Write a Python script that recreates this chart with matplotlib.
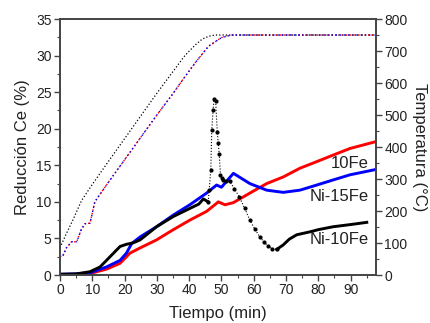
"""Reduccion de Ce y temperatura frente al tiempo (Ni-Fe)"""
import matplotlib
matplotlib.use("Agg")
import matplotlib.pyplot as plt
from matplotlib.ticker import MultipleLocator

plt.rcParams["font.family"] = ["Liberation Sans", "DejaVu Sans"]

# reduccion Ce (%)
ni10_t = [0, 5, 9.3, 12.4, 15.5, 18.6, 20.6, 22.7, 24.8, 29.9, 35.1, 40.2, 43, 44.4, 45.9]
ni10_r = [0.1, 0.15, 0.45, 1.1, 2.5, 3.9, 4.2, 4.4, 4.8, 6.6, 8.0, 9.1, 9.7, 10.4, 10.0]
ni10_peak_t = [45.9, 46.2, 46.7, 47.0, 47.4, 47.7, 48.2, 48.7, 49.0, 49.3, 49.7, 50.1,
               50.6, 51.5, 52.6, 54.0, 55.5, 57.2, 58.8, 60.3, 61.9, 63.2, 64.5, 65.8, 67.1]
ni10_peak_r = [10.0, 11.6, 14.4, 19.8, 22.5, 24.1, 23.8, 19.6, 18.0, 16.6, 13.7, 13.2,
               13.0, 12.9, 12.8, 11.8, 10.7, 9.1, 7.5, 6.3, 5.2, 4.5, 3.9, 3.6, 3.5]
ni10_end_t = [67.1, 69.1, 71, 73.3, 77.4, 80, 84.6, 90, 95]
ni10_end_r = [3.5, 4.1, 4.9, 5.5, 5.9, 6.2, 6.6, 6.9, 7.2]

ni15_t = [0, 5, 9.3, 14.4, 18.6, 20.6, 22.2, 24.8, 29.9, 35.1, 40.2, 45.4, 48.5, 50.0,
          53.7, 58.8, 64, 69.1, 74.3, 79.5, 84.6, 89.8, 97.5]
ni15_r = [0.1, 0.15, 0.3, 1.1, 2.0, 3.0, 4.3, 5.2, 6.6, 8.2, 9.6, 11.2, 12.3, 12.0,
          13.9, 12.5, 11.6, 11.3, 11.6, 12.3, 13.0, 13.7, 14.4]

fe10_t = [0, 5, 9.3, 14.4, 18.6, 21.7, 24.8, 29.9, 35.1, 40.2, 45.4, 48.5, 49.0, 51.1,
          53.7, 58.8, 64, 69.1, 74.3, 79.5, 84.6, 89.8, 97.5]
fe10_r = [0.05, 0.08, 0.2, 0.8, 1.6, 3.0, 3.7, 4.8, 6.2, 7.5, 8.7, 9.8, 10.0, 9.6,
          9.9, 11.2, 12.5, 13.4, 14.6, 15.5, 16.4, 17.3, 18.2]

# temperatura (C)
temp_ni10_t = [0, 2, 4, 6.7, 10, 15, 20, 25, 30, 35, 38.7, 42, 44, 46, 48, 97.5]
temp_ni10 = [85, 130, 172, 233, 283, 355, 426, 497, 568, 636, 686, 720, 737, 746, 750, 750]
temp_fe_t = [0, 1, 2, 3.6, 5.2, 6.5, 7.7, 9.3, 10.8, 15, 20, 25, 30, 35, 38, 42, 46, 50,
             53, 97.5]
temp_fe = [57, 62, 85, 104, 104, 140, 160, 162, 229, 290, 360, 430, 500, 567, 610, 665,
           715, 742, 750, 750]

labels = ["10Fe", "Ni-15Fe", "Ni-10Fe"]
label_y = [15.3, 10.7, 4.8]

fig = plt.figure(figsize=(4.3, 3.23), dpi=100)
ax = fig.add_axes([0.1395, 0.1486, 0.7345, 0.7925])
ax2 = ax.twinx()

ax2.plot(temp_ni10_t, temp_ni10, color="black", ls=":", lw=0.9)
ax2.plot(temp_fe_t, temp_fe, color="red", ls=":", lw=1.0)
ax2.plot(temp_fe_t, temp_fe, color="blue", ls=(1, (1, 2)), lw=1.0)

ax.plot(fe10_t, fe10_r, color="red", lw=2.1)
ax.plot(ni15_t, ni15_r, color="blue", lw=2.1)
ax.plot(ni10_t, ni10_r, color="black", lw=2.1)
ax.plot(ni10_peak_t, ni10_peak_r, color="black", ls=":", lw=0.8,
        marker="o", ms=2.0)
ax.plot(ni10_end_t, ni10_end_r, color="black", lw=2.1)

for lab, y in zip(labels, label_y):
    ax.text(95.6, y, lab, ha="right", va="center", fontsize=12, color="#222222")

ax.set_xlim(0, 97.8)
ax.set_ylim(0, 35)
ax2.set_ylim(0, 800)
ax.xaxis.set_major_locator(MultipleLocator(10))
ax.xaxis.set_minor_locator(MultipleLocator(5))
ax.yaxis.set_major_locator(MultipleLocator(5))
ax.yaxis.set_minor_locator(MultipleLocator(2.5))
ax2.yaxis.set_major_locator(MultipleLocator(100))
ax2.yaxis.set_minor_locator(MultipleLocator(50))

for a in (ax, ax2):
    for sp in a.spines.values():
        sp.set_color("#444444")
        sp.set_linewidth(1.2)
    a.tick_params(which="major", length=4, width=1, color="#444444",
                  labelsize=10, labelcolor="#222222", pad=2)
    a.tick_params(which="minor", length=2.5, width=0.8, color="#444444")

ax.set_xlabel("Tiempo (min)", fontsize=12, color="#222222", labelpad=6)
ax.set_ylabel("Reducción Ce (%)", fontsize=12, color="#222222", labelpad=4)
ax2.set_ylabel("Temperatura (°C)", fontsize=12, color="#222222", rotation=270,
               labelpad=14)

fig.savefig("out.png", dpi=100)
